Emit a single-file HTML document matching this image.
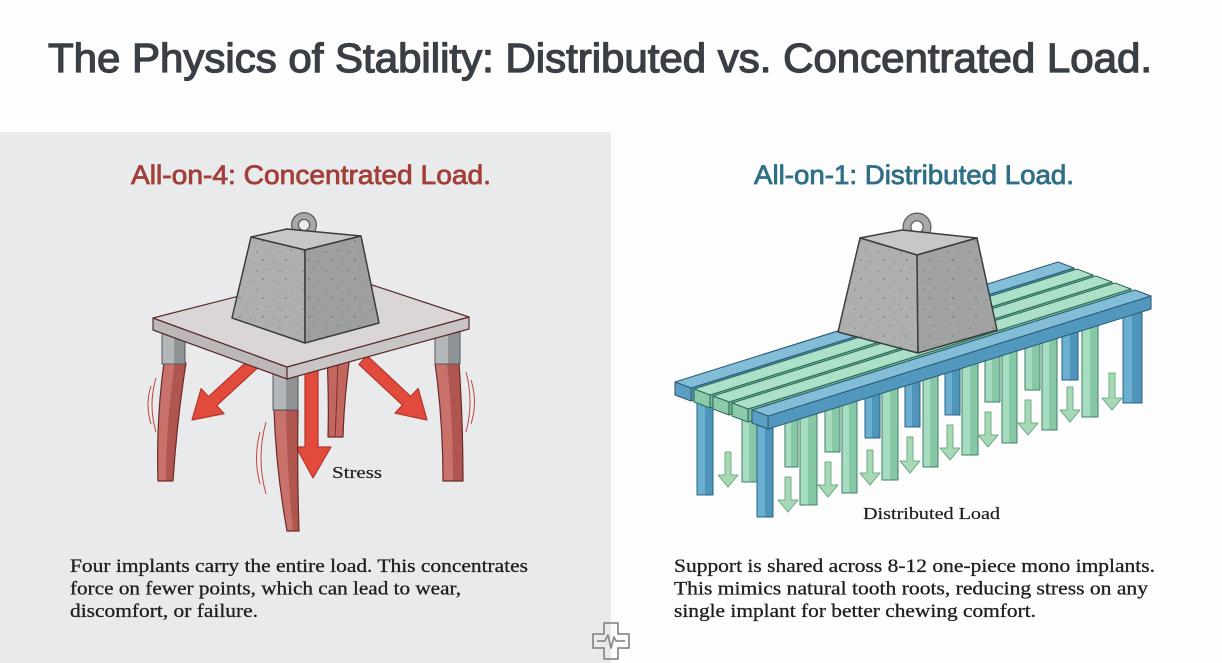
<!DOCTYPE html>
<html><head><meta charset="utf-8"><style>
html,body{margin:0;padding:0;background:#fdfdfd;}
svg{display:block;}
</style></head><body>
<svg width="1222" height="663" viewBox="0 0 1222 663" xmlns="http://www.w3.org/2000/svg">
<defs>
<pattern id="spk" width="23" height="19" patternUnits="userSpaceOnUse">
<circle cx="4" cy="5" r="0.8" fill="#5a5d5f"/><circle cx="15" cy="3" r="0.6" fill="#6a6d6f"/><circle cx="10" cy="13" r="0.9" fill="#55585a"/><circle cx="20" cy="15" r="0.6" fill="#6a6d6f"/><circle cx="2" cy="16" r="0.5" fill="#6a6d6f"/>
</pattern>
</defs>
<rect x="0" y="0" width="1222" height="663" fill="#fdfdfd"/>
<rect x="0" y="132" width="611" height="531" fill="#e9eaeb"/>

<!-- Title -->
<text x="48" y="72" font-family="Liberation Sans, sans-serif" font-size="41" fill="#393f44" stroke="#393f44" stroke-width="1.3" textLength="1104" lengthAdjust="spacingAndGlyphs">The Physics of Stability: Distributed vs. Concentrated Load.</text>
<text x="131" y="184" font-family="Liberation Sans, sans-serif" font-size="27" fill="#a23f38" stroke="#a23f38" stroke-width="0.8" textLength="360" lengthAdjust="spacingAndGlyphs">All-on-4: Concentrated Load.</text>
<text x="754" y="184" font-family="Liberation Sans, sans-serif" font-size="27" fill="#2e6e87" stroke="#2e6e87" stroke-width="0.8" textLength="320" lengthAdjust="spacingAndGlyphs">All-on-1: Distributed Load.</text>

<!-- ===== LEFT ILLUSTRATION ===== -->
<g stroke-linejoin="round">
<!-- back middle leg -->
<path d="M327,355 Q329,400 328,437 L343,437 Q344,400 350,355 Z" fill="#c46660" stroke="#6a2a26" stroke-width="1.2"/>
<path d="M338,355 Q337,400 335,437" fill="none" stroke="#7d322d" stroke-width="1"/>
<!-- arrows -->
<g fill="#e24a3b" stroke="#b3372c" stroke-width="1.2">
<polygon points="248.9,359.6 208.5,396.7 201.1,388.6 192,420 224.1,413.6 216.7,405.5 257.1,368.4"/>
<polygon points="367.1,355.6 410.7,396.4 418.2,388.4 427,420 395.0,413.2 402.5,405.2 358.9,364.4"/>
<polygon points="305,368 318,368 318,447 331,447 313,478 296,447 305,447"/>
</g>
<!-- front-left leg -->
<path d="M164,363 Q156,420 158,481 L173,481 Q177,420 186,363 Z" fill="#c9716b"/>
<path d="M175,363 Q166,420 166,481 L173,481 Q177,420 186,363 Z" fill="#b0554f"/>
<path d="M164,363 Q156,420 158,481 L173,481 Q177,420 186,363 Z" fill="none" stroke="#6a2a26" stroke-width="1.2"/>
<rect x="162" y="328" width="23" height="36" fill="#b4b7b9"/>
<rect x="174" y="328" width="11" height="36" fill="#8f9395"/>
<rect x="162" y="328" width="23" height="36" fill="none" stroke="#55585a" stroke-width="1"/>
<!-- right leg -->
<path d="M435,363 Q443,420 443,481 L463,481 Q463,420 459,363 Z" fill="#c9716b"/>
<path d="M447,363 Q453,420 453,481 L463,481 Q463,420 459,363 Z" fill="#b0554f"/>
<path d="M435,363 Q443,420 443,481 L463,481 Q463,420 459,363 Z" fill="none" stroke="#6a2a26" stroke-width="1.2"/>
<rect x="435" y="326" width="25" height="38" fill="#b4b7b9"/>
<rect x="448" y="326" width="12" height="38" fill="#8f9395"/>
<rect x="435" y="326" width="25" height="38" fill="none" stroke="#55585a" stroke-width="1"/>
<!-- center leg -->
<path d="M274,410 Q276,470 287,531 L299,531 Q297,470 298,410 Z" fill="#c9716b"/>
<path d="M286,410 Q287,470 293,531 L299,531 Q297,470 298,410 Z" fill="#b0554f"/>
<path d="M274,410 Q276,470 287,531 L299,531 Q297,470 298,410 Z" fill="none" stroke="#6a2a26" stroke-width="1.2"/>
<rect x="273" y="372" width="25" height="38" fill="#b4b7b9"/>
<rect x="286" y="372" width="12" height="38" fill="#8f9395"/>
<rect x="273" y="372" width="25" height="38" fill="none" stroke="#55585a" stroke-width="1"/>
<!-- vibration lines -->
<g fill="none" stroke="#c0473f" stroke-width="1">
<path d="M156,378 Q148,405 156,432"/><path d="M151,386 Q145,405 151,424"/>
<path d="M266,422 Q256,458 266,494"/><path d="M260,432 Q253,458 260,484"/>
<path d="M466,372 Q474,402 466,432"/><path d="M471,380 Q478,402 471,424"/>
</g>
<!-- table -->
<polygon points="153,318 287,367 287,379 153,330" fill="#bdb8b8" stroke="#5a2b2b" stroke-width="1.2"/>
<polygon points="287,367 469,317 469,329 287,379" fill="#c9c5c5" stroke="#5a2b2b" stroke-width="1.2"/>
<polygon points="153,318 333,272 469,317 287,367" fill="#dbd6d6" stroke="#5a2b2b" stroke-width="1.2"/>
<!-- weight left -->
<circle cx="304" cy="225" r="9" fill="none" stroke="#5a5d5f" stroke-width="8"/>
<circle cx="304" cy="225" r="9" fill="none" stroke="#a7a9aa" stroke-width="5.5"/>
<polygon points="251,237 287,229 361,236 305,250" fill="#c6c8c8" stroke="#3a3d3f" stroke-width="1.5"/>
<polygon points="251,237 305,250 305,343 232,318" fill="#aeb0b0" stroke="#3a3d3f" stroke-width="1.5"/>
<polygon points="305,250 361,236 379,323 305,343" fill="#9d9fa0" stroke="#3a3d3f" stroke-width="1.5"/>
<polygon points="251,237 305,250 305,343 232,318" fill="url(#spk)" opacity="0.6"/>
<polygon points="305,250 361,236 379,323 305,343" fill="url(#spk)" opacity="0.6"/>
</g>
<text x="332" y="478" font-family="Liberation Serif, serif" font-size="17" fill="#1f1f1f" stroke="#1f1f1f" stroke-width="0.2" textLength="50" lengthAdjust="spacingAndGlyphs">Stress</text>

<!-- ===== RIGHT ILLUSTRATION ===== -->
<g stroke-linejoin="round">
<g stroke-width="1">
<g><rect x="785" y="392" width="13" height="75" fill="#a6dcc0"/><rect x="791" y="392" width="7" height="75" fill="#86c8a6"/><rect x="785" y="392" width="13" height="75" fill="none" stroke="#3f8068"/></g>
<g><rect x="825" y="379" width="15" height="73" fill="#a6dcc0"/><rect x="832" y="379" width="8" height="73" fill="#86c8a6"/><rect x="825" y="379" width="15" height="73" fill="none" stroke="#3f8068"/></g>
<g><rect x="865" y="366" width="15" height="72" fill="#6aaed0"/><rect x="872" y="366" width="8" height="72" fill="#4f95bb"/><rect x="865" y="366" width="15" height="72" fill="none" stroke="#2c6482"/></g>
<g><rect x="905" y="354" width="15" height="73" fill="#6aaed0"/><rect x="912" y="354" width="8" height="73" fill="#4f95bb"/><rect x="905" y="354" width="15" height="73" fill="none" stroke="#2c6482"/></g>
<g><rect x="945" y="341" width="15" height="74" fill="#6aaed0"/><rect x="952" y="341" width="8" height="74" fill="#4f95bb"/><rect x="945" y="341" width="15" height="74" fill="none" stroke="#2c6482"/></g>
<g><rect x="985" y="329" width="15" height="73" fill="#a6dcc0"/><rect x="992" y="329" width="8" height="73" fill="#86c8a6"/><rect x="985" y="329" width="15" height="73" fill="none" stroke="#3f8068"/></g>
<g><rect x="1025" y="316" width="15" height="74" fill="#a6dcc0"/><rect x="1032" y="316" width="8" height="74" fill="#86c8a6"/><rect x="1025" y="316" width="15" height="74" fill="none" stroke="#3f8068"/></g>
<g><rect x="1062" y="304" width="16" height="76" fill="#6aaed0"/><rect x="1070" y="304" width="8" height="76" fill="#4f95bb"/><rect x="1062" y="304" width="16" height="76" fill="none" stroke="#2c6482"/></g>
<g><rect x="697" y="395" width="16" height="100" fill="#6aaed0"/><rect x="705" y="395" width="8" height="100" fill="#4f95bb"/><rect x="697" y="395" width="16" height="100" fill="none" stroke="#2c6482"/></g>
<g><rect x="742" y="410" width="15" height="72" fill="#a6dcc0"/><rect x="749" y="410" width="8" height="72" fill="#86c8a6"/><rect x="742" y="410" width="15" height="72" fill="none" stroke="#3f8068"/></g>
<g><rect x="800" y="387" width="17" height="118" fill="#a6dcc0"/><rect x="808" y="387" width="9" height="118" fill="#86c8a6"/><rect x="800" y="387" width="17" height="118" fill="none" stroke="#3f8068"/></g>
<g><rect x="842" y="373" width="15" height="120" fill="#a6dcc0"/><rect x="849" y="373" width="8" height="120" fill="#86c8a6"/><rect x="842" y="373" width="15" height="120" fill="none" stroke="#3f8068"/></g>
<g><rect x="882" y="361" width="16" height="119" fill="#a6dcc0"/><rect x="890" y="361" width="8" height="119" fill="#86c8a6"/><rect x="882" y="361" width="16" height="119" fill="none" stroke="#3f8068"/></g>
<g><rect x="923" y="348" width="15" height="119" fill="#a6dcc0"/><rect x="930" y="348" width="8" height="119" fill="#86c8a6"/><rect x="923" y="348" width="15" height="119" fill="none" stroke="#3f8068"/></g>
<g><rect x="962" y="336" width="16" height="119" fill="#a6dcc0"/><rect x="970" y="336" width="8" height="119" fill="#86c8a6"/><rect x="962" y="336" width="16" height="119" fill="none" stroke="#3f8068"/></g>
<g><rect x="1002" y="323" width="15" height="120" fill="#a6dcc0"/><rect x="1009" y="323" width="8" height="120" fill="#86c8a6"/><rect x="1002" y="323" width="15" height="120" fill="none" stroke="#3f8068"/></g>
<g><rect x="1042" y="311" width="15" height="119" fill="#a6dcc0"/><rect x="1049" y="311" width="8" height="119" fill="#86c8a6"/><rect x="1042" y="311" width="15" height="119" fill="none" stroke="#3f8068"/></g>
<g><rect x="1082" y="298" width="16" height="119" fill="#a6dcc0"/><rect x="1090" y="298" width="8" height="119" fill="#86c8a6"/><rect x="1082" y="298" width="16" height="119" fill="none" stroke="#3f8068"/></g>
<g><rect x="1123" y="300" width="19" height="103" fill="#6aaed0"/><rect x="1132" y="300" width="10" height="103" fill="#4f95bb"/><rect x="1123" y="300" width="19" height="103" fill="none" stroke="#2c6482"/></g>
<g><rect x="757" y="400" width="16" height="117" fill="#6aaed0"/><rect x="765" y="400" width="8" height="117" fill="#4f95bb"/><rect x="757" y="400" width="16" height="117" fill="none" stroke="#2c6482"/></g>
</g>

<!-- slats -->
<g stroke-width="1.1">
<polygon points="691,388 1074,268 1074,281 691,401" fill="#4f93b8" stroke="#2b5f78"/>
<polygon points="675,382 1058,262 1074,268 691,388" fill="#84bdd8" stroke="#2b5f78"/>
<polygon points="675,382 691,388 691,401 675,395" fill="#5d9fc3" stroke="#2b5f78"/>
<polygon points="710,395 1093,275 1093,288 710,408" fill="#78bb9c" stroke="#2f6b5a"/>
<polygon points="694,389 1077,269 1093,275 710,395" fill="#ade0c8" stroke="#2f6b5a"/>
<polygon points="694,389 710,395 710,408 694,402" fill="#8bcbab" stroke="#2f6b5a"/>
<polygon points="729,402 1112,282 1112,295 729,415" fill="#78bb9c" stroke="#2f6b5a"/>
<polygon points="713,396 1096,276 1112,282 729,402" fill="#ade0c8" stroke="#2f6b5a"/>
<polygon points="713,396 729,402 729,415 713,409" fill="#8bcbab" stroke="#2f6b5a"/>
<polygon points="748,409 1131,289 1131,302 748,422" fill="#78bb9c" stroke="#2f6b5a"/>
<polygon points="732,403 1115,283 1131,289 748,409" fill="#ade0c8" stroke="#2f6b5a"/>
<polygon points="732,403 748,409 748,422 732,416" fill="#8bcbab" stroke="#2f6b5a"/>
<polygon points="768,416 1151,296 1151,309 768,429" fill="#5298be" stroke="#2b5f78"/>
<polygon points="752,410 1135,290 1151,296 768,416" fill="#84bdd8" stroke="#2b5f78"/>
<polygon points="752,410 768,416 768,429 752,423" fill="#5d9fc3" stroke="#2b5f78"/>
</g>

<!-- green arrows -->
<g fill="#a8d9b6" stroke="#6fae88" stroke-width="1">
<polygon points="725,452 731,452 731,475 738,475 728,487 718,475 725,475"/>
<polygon points="785,477 791,477 791,500 798,500 788,512 778,500 785,500"/>
<polygon points="825,462 831,462 831,485 838,485 828,497 818,485 825,485"/>
<polygon points="867,450 873,450 873,473 880,473 870,485 860,473 867,473"/>
<polygon points="907,437 913,437 913,461 920,461 910,473 900,461 907,461"/>
<polygon points="947,425 953,425 953,448 960,448 950,460 940,448 947,448"/>
<polygon points="985,412 991,412 991,435 998,435 988,447 978,435 985,435"/>
<polygon points="1025,400 1031,400 1031,423 1038,423 1028,435 1018,423 1025,423"/>
<polygon points="1067,387 1073,387 1073,410 1080,410 1070,422 1060,410 1067,410"/>
<polygon points="1109,373 1115,373 1115,398 1122,398 1112,410 1102,398 1109,398"/>
</g>

<!-- weight right -->
<circle cx="917" cy="227" r="10" fill="none" stroke="#5a5d5f" stroke-width="9"/>
<circle cx="917" cy="227" r="10" fill="none" stroke="#a7a9aa" stroke-width="6.5"/>
<polygon points="860,238 902,230 977,238 917,255" fill="#c6c8c8" stroke="#3a3d3f" stroke-width="1.5"/>
<polygon points="860,238 917,255 918,353 838,332" fill="#aeb0b0" stroke="#3a3d3f" stroke-width="1.5"/>
<polygon points="917,255 977,238 997,330 918,353" fill="#a0a2a3" stroke="#3a3d3f" stroke-width="1.5"/>
<polygon points="860,238 917,255 918,353 838,332" fill="url(#spk)" opacity="0.6"/>
<polygon points="917,255 977,238 997,330 918,353" fill="url(#spk)" opacity="0.6"/>
</g>
<text x="863" y="519" font-family="Liberation Serif, serif" font-size="17" fill="#1f1f1f" stroke="#1f1f1f" stroke-width="0.2" textLength="137" lengthAdjust="spacingAndGlyphs">Distributed Load</text>

<!-- body text -->
<g font-family="Liberation Serif, serif" font-size="19" fill="#1e1e1e" stroke="#1e1e1e" stroke-width="0.3">
<text x="70" y="572" textLength="458" lengthAdjust="spacingAndGlyphs">Four implants carry the entire load. This concentrates</text>
<text x="70" y="594.5" textLength="391" lengthAdjust="spacingAndGlyphs">force on fewer points, which can lead to wear,</text>
<text x="70" y="617" textLength="188" lengthAdjust="spacingAndGlyphs">discomfort, or failure.</text>
<text x="674" y="572" textLength="481" lengthAdjust="spacingAndGlyphs">Support is shared across 8-12 one-piece mono implants.</text>
<text x="674" y="594.5" textLength="474" lengthAdjust="spacingAndGlyphs">This mimics natural tooth roots, reducing stress on any</text>
<text x="674" y="617" textLength="362" lengthAdjust="spacingAndGlyphs">single implant for better chewing comfort.</text>
</g>

<!-- plus icon -->
<g fill="none" stroke="#8a8c8e" stroke-width="1.8" stroke-linejoin="round">
<path d="M604,623 L618,623 L618,634 L629,634 L629,648 L618,648 L618,659 L604,659 L604,648 L593,648 L593,634 L604,634 Z"/>
<polyline points="597,641 605,641 608,635 611,648 614,637 616,641 625,641"/>
</g>
</svg>
</body></html>
